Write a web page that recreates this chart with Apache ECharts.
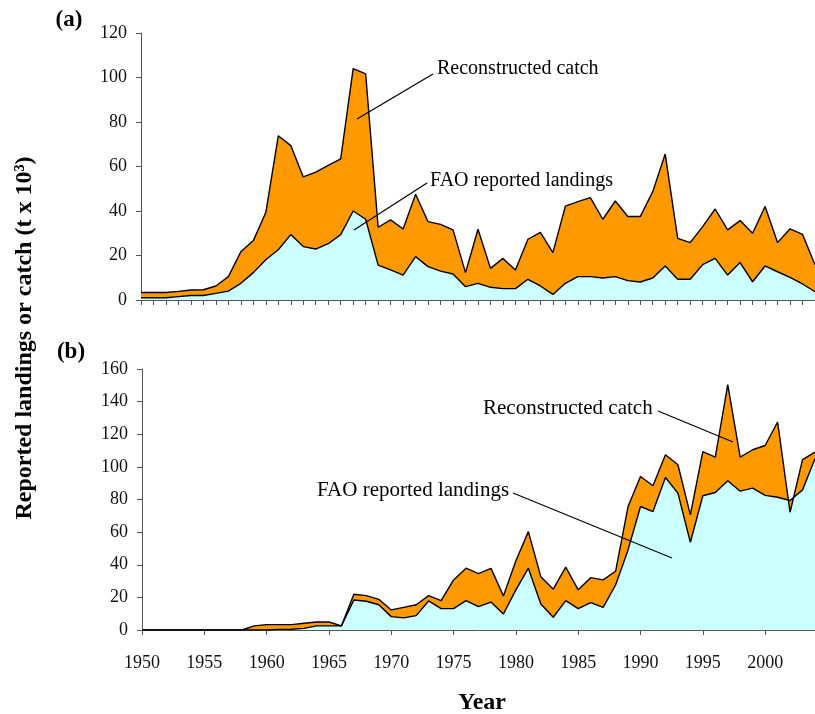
<!DOCTYPE html>
<html>
<head>
<meta charset="utf-8">
<script src="https://cdn.jsdelivr.net/npm/echarts@6/dist/echarts.min.js"></script>
<style>
html,body{margin:0;padding:0;background:#fff;}
#chart{width:815px;height:714px;}
#err{position:absolute;left:150px;top:80px;color:red;font:12px monospace;white-space:pre-wrap;width:600px;}
</style>
</head>
<body>
<div id="chart"></div>
<div id="err"></div>
<script>
const years = [1950,1951,1952,1953,1954,1955,1956,1957,1958,1959,
  1960,1961,1962,1963,1964,1965,1966,1967,1968,1969,
  1970,1971,1972,1973,1974,1975,1976,1977,1978,1979,
  1980,1981,1982,1983,1984,1985,1986,1987,1988,1989,
  1990,1991,1992,1993,1994,1995,1996,1997,1998,1999,
  2000,2001,2002,2003,2004];

// Panel (a)
const reconA = [3.4,3.4,3.4,3.9,4.5,4.6,6.3,10.5,21.7,26.7,
  39.3,73.8,69.4,55.3,57.5,60.5,63.4,104,101.6,32.7,
  36,31.9,47.5,35.2,34,31.5,12.3,31.8,14.2,18.7,
  13.5,27.3,30.4,21.3,42.2,44.2,46,36.3,44.5,37.5,
  37.5,48.7,65.6,27.7,25.8,33,40.9,31.5,35.7,30,
  42,25.8,32,29.5,15.8];
const faoA = [1,1,1,1.5,2,2,3,4,7.5,12.3,
  18.1,22.6,29.4,24,22.9,25.3,29.4,40,36.3,15.7,
  13.5,11.2,19.5,15,13,11.7,6,7.5,5.7,5.1,
  5.1,9.3,6.3,2.5,7.5,10.5,10.5,9.9,10.5,8.7,
  8.1,9.9,15.3,9.3,9.3,15.9,18.7,11.2,16.8,8.2,
  15.3,12.7,10.2,7.2,3.7];

// Panel (b)
const reconB = [0,0,0,0,0,0,0,0,0,2.5,
  3.3,3.3,3.3,4.1,4.9,4.9,2.5,21.9,21.1,18.8,
  12.3,13.9,15.5,21.1,18,30.7,37.9,34.6,37.8,20.9,
  42.5,60.3,32.7,25,38.5,24.6,32.1,30.7,36,75.7,
  94.1,88.4,107.4,101.3,70.6,109.3,106,150.4,106,110.5,
  113.1,127.5,72.2,104.4,109];
const faoB = [0,0,0,0,0,0,0,0,0,0,
  0,0.4,0.5,1,2.5,2.5,2.5,18.4,17.6,15.5,
  8.2,7.4,8.8,17.8,13.1,13.1,18,14.3,17.1,9.8,
  24.6,37.9,16,7.8,18,13.1,16.8,13.9,27.6,49.1,
  75.7,72.6,93.5,83.9,53.8,82.3,84.3,91.5,85.1,87,
  82.5,81.4,79.4,85.9,105];

const yTicksA = [0,20,40,60,80,100,120];
const yTicksB = [0,20,40,60,80,100,120,140,160];

const SERIF = '"Liberation Serif","Times New Roman",Times,serif';
const CYAN = '#CCFFFF', ORANGE = '#FF9900';

function pairs(vals){ return years.map((y,i)=>[y, vals[i]]); }

try {
const chart = echarts.init(document.getElementById('chart'), null, {renderer:'canvas'});

function xAxisCfg(gi, showLabels, interval){
  return {
    type:'value', gridIndex:gi, min:1950, max:2004, interval:interval,
    axisLine:{show:true, onZero:false, lineStyle:{color:'#555', width:1}},
    axisTick:{show:true, length:5, inside:false, lineStyle:{color:'#555'}},
    axisLabel:{show:showLabels, color:'#111', fontFamily:SERIF, fontSize:18, margin:24,
      formatter:v=>String(v), showMaxLabel:false},
    splitLine:{show:false}
  };
}
function yAxisCfg(gi, ticks){
  return {
    type:'value', gridIndex:gi, min:ticks[0], max:ticks[ticks.length-1],
    interval:ticks[1]-ticks[0],
    axisLine:{show:true, lineStyle:{color:'#555', width:1}},
    axisTick:{show:true, length:5, inside:false, lineStyle:{color:'#555'}},
    axisLabel:{color:'#111', fontFamily:SERIF, fontSize:18, margin:14},
    splitLine:{show:false}
  };
}
// Orange band: polygon between the FAO line and the reconstructed line, via the axis scales.
function bandSeries(idx, fao, recon){
  return {
    type:'custom', xAxisIndex:idx, yAxisIndex:idx, z:3,
    data:[0],
    renderItem:function(params, api){
      const top = years.map((y,i)=>api.coord([y, recon[i]]));
      const bot = years.map((y,i)=>api.coord([y, fao[i]])).reverse();
      return {type:'polygon', shape:{points:top.concat(bot)},
        style:{fill:ORANGE, stroke:null}, silent:true};
    },
    clip:true
  };
}
function seriesFor(idx, fao, recon){
  return [
    {type:'line', xAxisIndex:idx, yAxisIndex:idx,
     data:pairs(fao), showSymbol:false, symbol:'none', z:2,
     lineStyle:{width:0}, areaStyle:{color:CYAN, opacity:1}},
    bandSeries(idx, fao, recon),
    {type:'line', xAxisIndex:idx, yAxisIndex:idx,
     data:pairs(recon), showSymbol:false, symbol:'none', z:4,
     lineStyle:{width:1.4, color:'#000'}},
    {type:'line', xAxisIndex:idx, yAxisIndex:idx,
     data:pairs(fao), showSymbol:false, symbol:'none', z:4,
     lineStyle:{width:1.4, color:'#000'}}
  ];
}

function ann(text, x, y, size){
  return {type:'text', z:100, x:x, y:y,
    style:{text:text, fill:'#000', font:size+'px '+SERIF, textVerticalAlign:'middle'}};
}
function lead(x1,y1,x2,y2){
  return {type:'line', z:100, shape:{x1:x1,y1:y1,x2:x2,y2:y2}, style:{stroke:'#000', lineWidth:1.2}};
}

chart.setOption({
  animation:false,
  backgroundColor:'#fff',
  grid:[
    {left:141, top:33, width:677, height:267},
    {left:142, top:369, width:677, height:261}
  ],
  xAxis:[ xAxisCfg(0,false,1), xAxisCfg(1,true,5) ],
  yAxis:[ yAxisCfg(0,yTicksA), yAxisCfg(1,yTicksB) ],
  series:[].concat(seriesFor(0,faoA,reconA), seriesFor(1,faoB,reconB)),
  graphic:[
    {type:'text', x:69, y:20, style:{text:'(a)', fill:'#000', font:'bold 23px '+SERIF, textAlign:'center', textVerticalAlign:'middle'}},
    {type:'text', x:71, y:352, style:{text:'(b)', fill:'#000', font:'bold 23px '+SERIF, textAlign:'center', textVerticalAlign:'middle'}},
    {type:'text', x:25, y:338, rotation:Math.PI/2, style:{text:'Reported landings or catch (t x 10³)', fill:'#000', font:'bold 24px '+SERIF, textAlign:'center', textVerticalAlign:'middle'}},
    {type:'text', x:482, y:703, style:{text:'Year', fill:'#000', font:'bold 24px '+SERIF, textAlign:'center', textVerticalAlign:'middle'}},
    lead(357,119,433,74),
    ann('Reconstructed catch', 437, 69, 20),
    lead(354,230,427,183),
    ann('FAO reported landings', 430, 181, 20),
    lead(658,411,733,442),
    ann('Reconstructed catch', 483, 408, 21),
    lead(513,493,672,558),
    ann('FAO reported landings', 317, 490, 21)
  ]
});
} catch(e) {
  document.getElementById('err').textContent = String(e && e.stack || e);
}
</script>
</body>
</html>
